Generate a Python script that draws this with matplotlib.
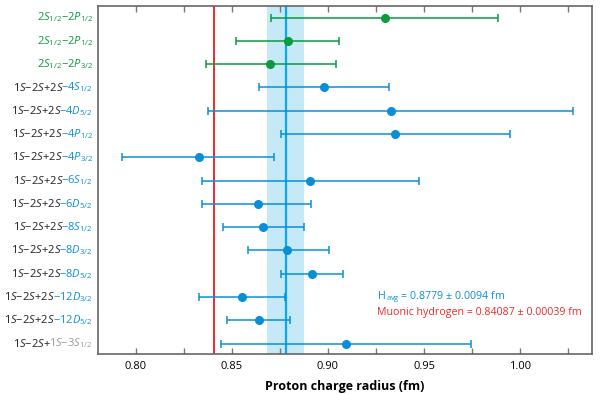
import matplotlib
matplotlib.use('Agg')
import matplotlib.pyplot as plt
from matplotlib.offsetbox import TextArea, HPacker, AnchoredOffsetbox

plt.rcParams['font.family'] = 'Open Sans'
plt.rcParams['mathtext.fontset'] = 'custom'
plt.rcParams['mathtext.rm'] = 'Open Sans'
plt.rcParams['mathtext.it'] = 'Open Sans:italic'
plt.rcParams['mathtext.bf'] = 'Open Sans:bold'

GREEN = '#0b9a3e'
BLUE = '#0a8fd6'
LINE_BLUE = '#0aa8ec'
BAND = '#c6e9f8'
RED = '#ee2a2a'
GRAY = '#9a9a9a'

# labels: (black part, coloured part, colour of that part)
label_black = ['', '', '',
               '1S{-}2S{+}2S', '1S{-}2S{+}2S', '1S{-}2S{+}2S', '1S{-}2S{+}2S',
               '1S{-}2S{+}2S', '1S{-}2S{+}2S', '1S{-}2S{+}2S', '1S{-}2S{+}2S',
               '1S{-}2S{+}2S', '1S{-}2S{+}2S', '1S{-}2S{+}2S', '1S{-}2S{+}']
label_color = ['2S_{1/2}{-}2P_{1/2}', '2S_{1/2}{-}2P_{1/2}', '2S_{1/2}{-}2P_{3/2}',
               '{-}4S_{1/2}', '{-}4D_{5/2}', '{-}4P_{1/2}', '{-}4P_{3/2}',
               '{-}6S_{1/2}', '{-}6D_{5/2}', '{-}8S_{1/2}', '{-}8D_{3/2}',
               '{-}8D_{5/2}', '{-}12D_{3/2}', '{-}12D_{5/2}', '1S{-}3S_{1/2}']
group = ['green'] * 3 + ['blue'] * 11 + ['gray']

radius = [0.9297, 0.8790, 0.8700, 0.8979, 0.9327, 0.9351, 0.8327, 0.8908,
          0.8634, 0.8663, 0.8788, 0.8917, 0.8551, 0.8639, 0.9092]
err_low = [0.8701, 0.8519, 0.8363, 0.8639, 0.8373, 0.8753, 0.7929, 0.8342,
           0.8345, 0.8451, 0.8585, 0.8755, 0.8330, 0.8472, 0.8441]
err_high = [0.9887, 0.9057, 0.9042, 0.9319, 1.0276, 0.9946, 0.8719, 0.9476,
            0.8913, 0.8877, 0.9004, 0.9078, 0.8774, 0.8802, 0.9743]

h_avg = 0.8779
h_avg_err = 0.0094
muonic = 0.84087

fig = plt.figure(figsize=(6, 3.94), dpi=100)
ax = fig.add_axes([0.163, 0.1015, 0.824, 0.8835])

ax.axvspan(h_avg - h_avg_err, h_avg + h_avg_err, color=BAND, lw=0, zorder=0)
ax.axvline(h_avg, color=LINE_BLUE, lw=1.6, zorder=1)
ax.axvline(muonic, color=RED, lw=1.4, zorder=1)

for i in range(len(radius)):
    c = GREEN if group[i] == 'green' else BLUE
    ax.errorbar(radius[i], i,
                xerr=[[radius[i] - err_low[i]], [err_high[i] - radius[i]]],
                fmt='o', color=c, ms=5.5, elinewidth=1.1, capsize=3, capthick=1.1,
                zorder=3)

ax.set_xlim(0.7802, 1.0375)
ax.set_ylim(14.45, -0.5)
ax.set_yticks([])
ax.set_xticks([0.80, 0.85, 0.90, 0.95, 1.00])
ax.set_xticklabels(['0.80', '0.85', '0.90', '0.95', '1.00'], fontsize=8)
ax.set_xticks([0.825, 0.875, 0.925, 0.975, 1.025], minor=True)
ax.tick_params(axis='x', which='both', direction='in', top=True, bottom=True,
               length=4, width=1, color='#777777', labelsize=8, pad=5)
for s in ax.spines.values():
    s.set_color('#666666')
    s.set_linewidth(1.2)
ax.set_xlabel('Proton charge radius (fm)', fontsize=9, fontweight='bold', labelpad=6)

for i in range(len(radius)):
    col = {'green': GREEN, 'blue': BLUE, 'gray': GRAY}[group[i]]
    parts = []
    if label_black[i]:
        parts.append(TextArea('$' + label_black[i] + '$',
                              textprops=dict(color='#231f20', fontsize=8)))
    parts.append(TextArea('$' + label_color[i] + '$',
                          textprops=dict(color=col, fontsize=8)))
    box = HPacker(children=parts, align='baseline', pad=0, sep=-1.5)
    anch = AnchoredOffsetbox(loc='center right', child=box, pad=0, frameon=False,
                             bbox_to_anchor=(-0.01, i),
                             bbox_transform=ax.get_yaxis_transform(),
                             borderpad=0)
    ax.add_artist(anch)

ax.text(0.9255, 12.0, r'H$_{\,\mathrm{avg}}$ = 0.8779 ± 0.0094 fm', color=BLUE,
        fontsize=7.7, va='center', ha='left')
ax.text(0.9255, 12.65, 'Muonic hydrogen = 0.84087 ± 0.00039 fm', color=RED,
        fontsize=7.7, va='center', ha='left')

fig.savefig('out.png', dpi=100)
